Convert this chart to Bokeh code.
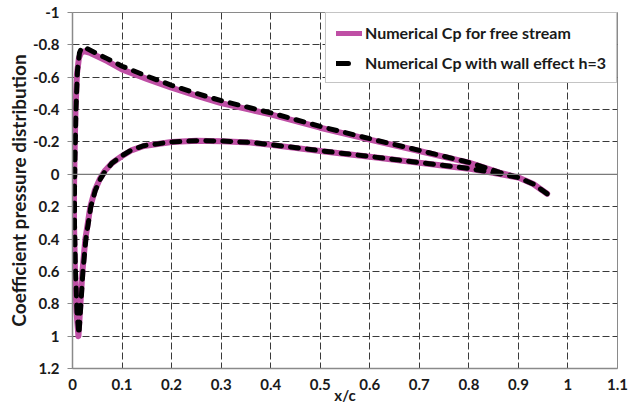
from bokeh.plotting import figure
from bokeh.models import Range1d, FixedTicker, NumeralTickFormatter, Span, Legend, LegendItem
from bokeh.embed import file_html
from bokeh.resources import INLINE

# ---- data ----
free_upper_x = [0.012, 0.008, 0.005, 0.003, 0.003, 0.004, 0.006, 0.009, 0.013, 0.018, 0.025, 0.036, 0.05, 0.07,
                0.1, 0.15, 0.2, 0.25, 0.3, 0.36, 0.4, 0.5, 0.6, 0.7, 0.8, 0.862, 0.9, 0.93, 0.958]
free_upper_cp = [1.0, 0.85, 0.6, 0.3, 0.1, -0.1, -0.4, -0.62, -0.72, -0.755, -0.76, -0.75, -0.73, -0.7,
                 -0.648, -0.59, -0.535, -0.487, -0.44, -0.398, -0.37, -0.288, -0.214, -0.144, -0.072, -0.01, 0.02, 0.06, 0.12]
free_lower_x = [0.012, 0.016, 0.02, 0.026, 0.036, 0.045, 0.055, 0.065, 0.08, 0.1, 0.12, 0.144, 0.2, 0.25, 0.3,
                0.36, 0.4, 0.5, 0.6, 0.7, 0.8, 0.862, 0.9, 0.93, 0.958]
free_lower_cp = [1.0, 0.8, 0.6, 0.4, 0.2, 0.1, 0.03, -0.02, -0.07, -0.113, -0.15, -0.175, -0.2, -0.207, -0.205,
                 -0.196, -0.182, -0.144, -0.109, -0.072, -0.035, -0.002, 0.02, 0.06, 0.12]

wall_upper_x = [0.013, 0.009, 0.006, 0.004, 0.004, 0.005, 0.007, 0.01, 0.014, 0.018, 0.024, 0.034, 0.05, 0.07,
                0.1, 0.15, 0.2, 0.25, 0.3, 0.36, 0.4, 0.5, 0.6, 0.7, 0.8, 0.862, 0.9, 0.93, 0.958]
wall_upper_cp = [0.99, 0.85, 0.6, 0.3, 0.1, -0.1, -0.4, -0.64, -0.75, -0.78, -0.785, -0.77, -0.745, -0.715,
                 -0.668, -0.607, -0.55, -0.5, -0.455, -0.41, -0.38, -0.296, -0.22, -0.148, -0.074, -0.012, 0.02, 0.06, 0.12]
wall_lower_x = [0.013, 0.017, 0.021, 0.027, 0.037, 0.046, 0.056, 0.066, 0.08, 0.1, 0.12, 0.144, 0.2, 0.25, 0.3,
                0.36, 0.4, 0.5, 0.6, 0.7, 0.8, 0.862, 0.9, 0.93, 0.958]
wall_lower_cp = [0.99, 0.8, 0.6, 0.4, 0.2, 0.1, 0.03, -0.02, -0.07, -0.115, -0.152, -0.177, -0.2, -0.208, -0.206,
                 -0.197, -0.183, -0.146, -0.11, -0.073, -0.036, -0.003, 0.02, 0.06, 0.12]

x_ticks = [0, 0.1, 0.2, 0.3, 0.4, 0.5, 0.6, 0.7, 0.8, 0.9, 1.0, 1.1]
y_ticks = [-1, -0.8, -0.6, -0.4, -0.2, 0, 0.2, 0.4, 0.6, 0.8, 1.0, 1.2]

series_names = ["Numerical Cp for free stream", "Numerical Cp with wall effect h=3"]
x_title = "x/c"
y_title = "Coefficient pressure distribution"

FONT = "Lato"
MAGENTA = "#BF4FA5"
TXT = "#1a1a1a"

p = figure(width=634, height=410, output_backend="svg", toolbar_location=None,
           x_range=Range1d(0, 1.1), y_range=Range1d(1.2, -1),
           min_border_left=72, min_border_right=17, min_border_top=12, min_border_bottom=42)
p.background_fill_color = "white"
p.border_fill_color = "white"
p.outline_line_color = "#8a8a8a"
p.outline_line_width = 1

# grids
for g in (p.xgrid[0], p.ygrid[0]):
    g.grid_line_color = "#3a3a3a"
    g.grid_line_dash = "7 3"
    g.grid_line_width = 1
p.xgrid[0].ticker = FixedTicker(ticks=x_ticks[1:-1])
p.ygrid[0].ticker = FixedTicker(ticks=[t for t in y_ticks if t not in (-1, 0, 1.2)])
p.add_layout(Span(location=0, dimension="width", line_color="#7a7a7a", line_width=1.2))

# axes
p.xaxis.ticker = FixedTicker(ticks=x_ticks)
p.yaxis.ticker = FixedTicker(ticks=y_ticks)
p.xaxis.formatter = NumeralTickFormatter(format="0.[0]")
p.yaxis.formatter = NumeralTickFormatter(format="0.[0]")
for ax in (p.xaxis[0], p.yaxis[0]):
    ax.axis_line_color = "#8a8a8a"
    ax.axis_line_width = 1.5
    ax.major_tick_line_color = "#8a8a8a"
    ax.minor_tick_line_color = None
    ax.major_tick_in = 0
    ax.major_label_text_font = FONT
    ax.major_label_text_font_style = "bold"
    ax.major_label_text_font_size = "15px"
    ax.major_label_text_color = TXT
    ax.axis_label_text_font = FONT
    ax.axis_label_text_font_style = "bold"
    ax.axis_label_text_color = TXT
p.xaxis.major_tick_out = 0
p.xaxis.major_label_standoff = 10
p.xaxis.axis_label = x_title
p.xaxis.axis_label_text_font_size = "15px"
p.xaxis.axis_label_standoff = -7
p.yaxis.major_tick_out = 5
p.yaxis.major_label_standoff = 8
p.yaxis.axis_label = y_title
p.yaxis.axis_label_text_font_size = "19px"
p.yaxis.axis_label_standoff = 0

# curves: trailing edge -> upper surface -> leading edge -> lower surface -> trailing edge
fx = free_upper_x[::-1] + free_lower_x[1:]
fy = free_upper_cp[::-1] + free_lower_cp[1:]
wx = wall_upper_x[::-1] + wall_lower_x[1:]
wy = wall_upper_cp[::-1] + wall_lower_cp[1:]

r_free = p.line(fx, fy, line_color=MAGENTA, line_width=6, line_join="round", line_cap="round")
r_wall = p.line(wx, wy, line_color="black", line_width=5, line_dash="8 9", line_join="round", line_cap="round")

# legend-only sample renderers (a single point draws no visible line on the plot)
lg_free = p.line(fx[:1], fy[:1], line_color=MAGENTA, line_width=5, line_cap="round")
lg_wall = p.line(wx[:1], wy[:1], line_color="black", line_width=5, line_cap="round", line_dash="12 40")

legend = Legend(items=[LegendItem(label=series_names[0], renderers=[lg_free]),
                       LegendItem(label=series_names[1], renderers=[lg_wall])],
                location="top_right", margin=0, padding=10, spacing=11,
                glyph_width=26, glyph_height=8, label_height=8, label_standoff=3,
                label_text_font=FONT, label_text_font_style="bold", label_text_font_size="16px",
                label_text_color=TXT, label_text_baseline="middle",
                border_line_color="#8a8a8a", border_line_width=1,
                background_fill_color="white", background_fill_alpha=1)
p.add_layout(legend)

open("out.html", "w").write(file_html(p, INLINE))
